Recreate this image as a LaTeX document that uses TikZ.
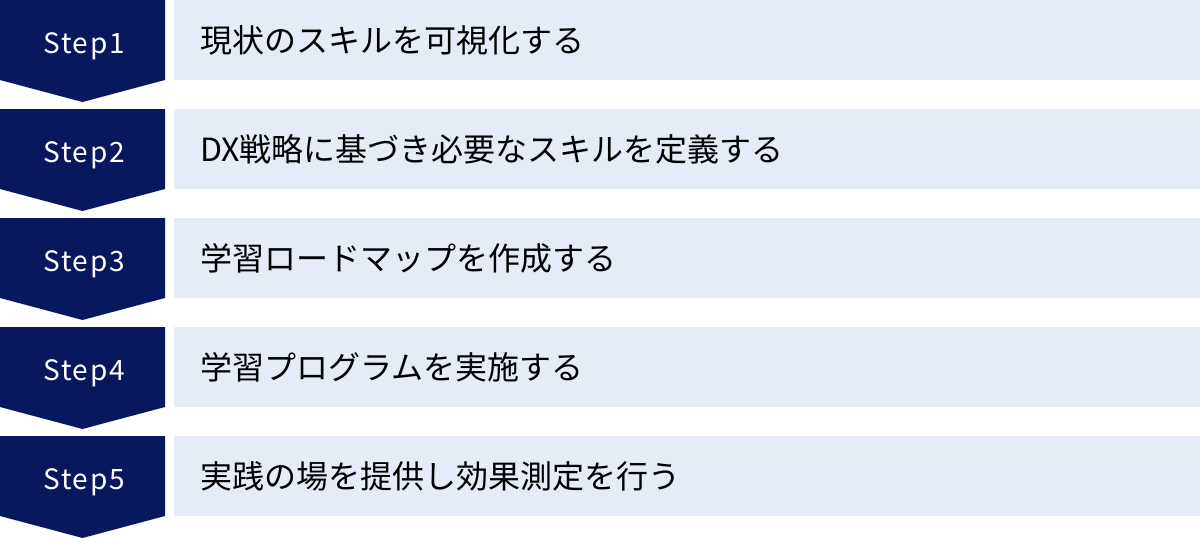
\documentclass[tikz,border=0pt]{standalone}
\usepackage{fontspec}
\setmainfont{Noto Sans CJK JP}
\newfontfamily\stepfont[LetterSpace=6]{Noto Sans CJK JP}
\definecolor{navy}{HTML}{08185F}
\definecolor{barblue}{HTML}{E6EBF8}
\tikzset{
  stepshape/.style={fill=navy,draw=none},
  barbox/.style={fill=barblue,draw=none},
  steplabel/.style={text=white,font=\stepfont\fontsize{28}{33}\selectfont,inner sep=0pt,anchor=base},
  bartext/.style={text=black,font=\fontsize{32}{38}\selectfont,inner sep=0pt,anchor=west},
}
\begin{document}
\begin{tikzpicture}[x=1pt,y=-1pt]
\useasboundingbox (0,0) rectangle (1200,538);
\foreach \i/\t in {1/現状のスキルを可視化する,2/DX戦略に基づき必要なスキルを定義する,3/学習ロードマップを作成する,4/学習プログラムを実施する,5/実践の場を提供し効果測定を行う}{
  \pgfmathsetmacro{\y}{(\i-1)*109}
  \fill[stepshape] (0,\y) -- (165,\y) -- (165,\y+80) -- (82.5,\y+102) -- (0,\y+80) -- cycle;
  \fill[barbox] (174,\y) rectangle (1200,\y+80);
  \node[steplabel] (s\i) at (84,\y+53) {Step\i};
  \node[bartext] (t\i) at (200,\y+40) {\t};
}
\end{tikzpicture}
\end{document}
